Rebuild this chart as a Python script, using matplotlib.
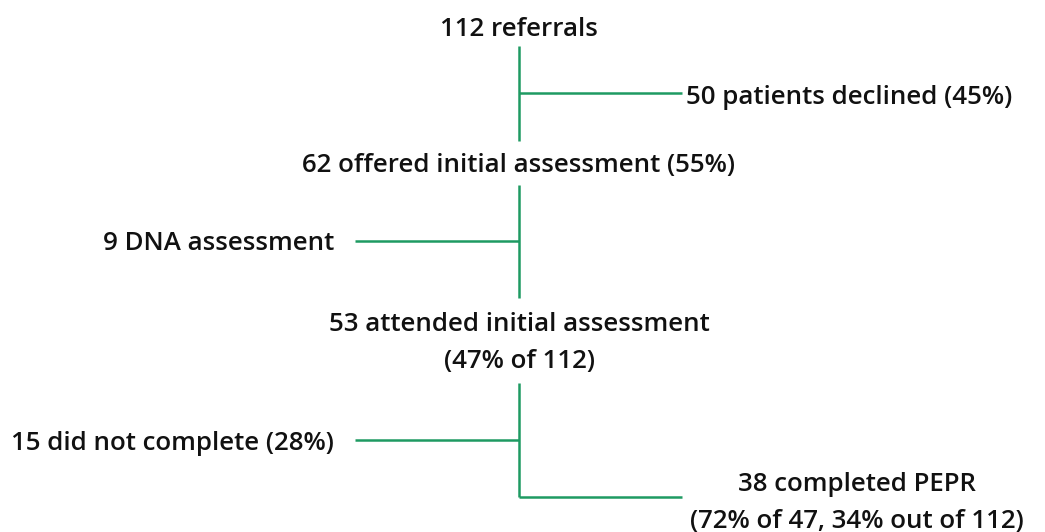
import matplotlib
matplotlib.use("Agg")
import matplotlib.pyplot as plt

# Data
stage_labels = ["112 referrals",
                "62 offered initial assessment (55%)",
                "53 attended initial assessment\n(47% of 112)"]
exit_labels = ["50 patients declined (45%)",
               "9 DNA assessment",
               "15 did not complete (28%)"]
final_label = "38 completed PEPR\n(72% of 47, 34% out of 112)"

# Layout (pixel coordinates)
W, H = 1045, 532
green = "#1e9a62"
cx = 519
stage_y = [30, 165, 343]
segments = [(46, 141), (185, 298), (383, 497)]
branch_y = [93, 241, 440]
branch_side = ["right", "left", "left"]
final_y = 503

plt.rcParams['font.family'] = ['Open Sans', 'DejaVu Sans']
fig = plt.figure(figsize=(W / 100, H / 100), dpi=100)
ax = fig.add_axes([0, 0, 1, 1])
ax.set_xlim(0, W)
ax.set_ylim(H, 0)
ax.axis("off")

fs = 18.6
fw = 600
lw = 1.8
ls = 1.6
for lab, y in zip(stage_labels, stage_y):
    ax.text(cx, y, lab, ha="center", va="center", fontsize=fs, color="#111111",
            linespacing=ls, fontweight=fw)

for (y0, y1) in segments:
    ax.plot([cx, cx], [y0, y1], color=green, lw=lw, solid_capstyle="butt")

for lab, y, side in zip(exit_labels, branch_y, branch_side):
    if side == "right":
        ax.plot([cx, 682], [y, y], color=green, lw=lw, solid_capstyle="butt")
        ax.text(686, y + 5, lab, ha="left", va="center", fontsize=fs, color="#111111",
                fontweight=fw)
    else:
        ax.plot([355, cx], [y, y], color=green, lw=lw, solid_capstyle="butt")
        ax.text(334, y + 3, lab, ha="right", va="center", fontsize=fs, color="#111111",
                fontweight=fw)

ax.plot([cx, 682], [segments[2][1], segments[2][1]], color=green, lw=lw, solid_capstyle="butt")
ax.text(857, final_y, final_label, ha="center", va="center", fontsize=fs, color="#111111",
        linespacing=ls, fontweight=fw)

fig.savefig("out.png", dpi=100)
